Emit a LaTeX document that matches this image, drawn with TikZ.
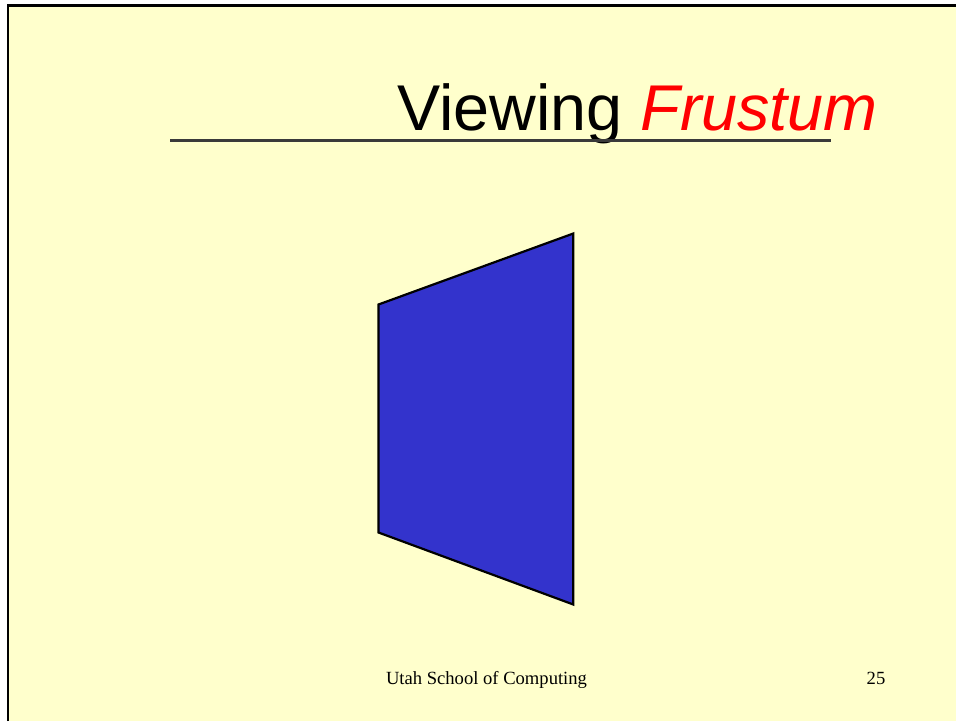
\documentclass[tikz,border=0pt]{standalone}
\usepackage{fontspec}
\setmainfont{Liberation Serif}
\newfontfamily\titlefont{Liberation Sans}
\definecolor{slidebg}{HTML}{FFFFCC}
\definecolor{frustumblue}{HTML}{3333CC}
\definecolor{rulegray}{HTML}{3A3A3A}
\begin{document}
\begin{tikzpicture}[x=1pt,y=-1pt,
  titletext/.style={inner sep=0pt, anchor=base west, font=\titlefont\fontsize{64.7}{70}\selectfont},
  foottext/.style={inner sep=0pt, anchor=base, font=\fontsize{18.6}{22}\selectfont}]
\useasboundingbox (0,0) rectangle (956,721);
\fill[white] (0,0) rectangle (956,721);
\fill[slidebg] (8,5.5) rectangle (956,721);
\draw[line width=2.2pt, black] (8,721) -- (8,5.5) -- (956,5.5);
% title
\node[titletext] (title) at (397,130) {Viewing \textcolor{red}{\itshape Frustum}};
\coordinate (ruleL) at (170,140.8);
\coordinate (ruleR) at (831,140.8);
\draw[rulegray, line width=2.8pt] (ruleL) -- (ruleR);
% frustum
\coordinate (tl) at (378.5,304.5);
\coordinate (tr) at (573.3,233.5);
\coordinate (br) at (573.3,604.5);
\coordinate (bl) at (378.5,532.5);
\filldraw[fill=frustumblue, draw=black, line width=2.2pt, line join=miter] (tl) -- (tr) -- (br) -- (bl) -- cycle;
% footer
\node[foottext] (foot) at (486.5,684) {Utah School of Computing};
\node[foottext] (page) at (876,684) {25};
\end{tikzpicture}
\end{document}
